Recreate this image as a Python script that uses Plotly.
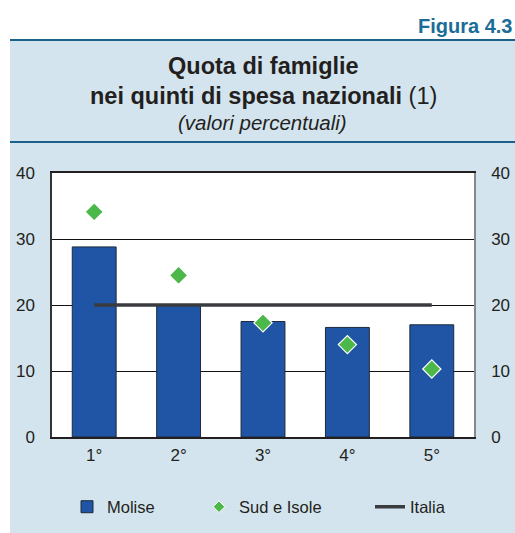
import plotly.graph_objects as go

categories = ["1°", "2°", "3°", "4°", "5°"]
molise = [28.8, 20.0, 17.5, 16.6, 17.0]
sud_isole = [34.1, 24.5, 17.3, 14.0, 10.3]
italia = [20, 20, 20, 20, 20]
y_ticks = [0, 10, 20, 30, 40]

W, H = 515, 533
L, R, T, B = 52, 474, 173, 437
pw, ph = R - L, B - T


def px(x):
    return (x - L) / pw


def py(y):
    return (B - y) / ph


FONT = "Liberation Sans, Arial, sans-serif"
GREEN = "#4cb849"
TXT = "#231f20"

fig = go.Figure()
fig.add_trace(go.Bar(
    x=categories, y=molise, name="Molise", width=0.52,
    marker=dict(color="#1f55a4", line=dict(color="#1e2a3c", width=1)),
    legend="legend",
))
fig.add_trace(go.Scatter(
    x=categories, y=italia, name="Italia", mode="lines",
    line=dict(color="#3a3b3e", width=3.5),
    legend="legend3",
))
fig.add_trace(go.Scatter(
    x=categories, y=sud_isole, name="Sud e Isole", mode="markers",
    marker=dict(symbol="diamond", size=14, color=GREEN,
                line=dict(color="white", width=1.2)),
    showlegend=False,
))
# legend entry with a smaller symbol, as in the original key
fig.add_trace(go.Scatter(
    x=[None], y=[None], name="Sud e Isole", mode="markers",
    marker=dict(symbol="diamond", size=9, color=GREEN,
                line=dict(color="white", width=1)),
    legend="legend2",
))
fig.add_trace(go.Scatter(
    x=categories, y=italia, yaxis="y2", mode="lines",
    line=dict(width=0), showlegend=False, hoverinfo="skip",
))

shapes = [
    dict(type="rect", xref="paper", yref="paper", layer="below",
         x0=px(10), x1=px(W + 5), y0=py(H + 5), y1=py(40),
         fillcolor="#d3e4ee", line=dict(width=0)),
    dict(type="rect", xref="paper", yref="paper", layer="below",
         x0=0, x1=1, y0=0, y1=1, fillcolor="white", line=dict(width=0)),
    dict(type="line", xref="paper", yref="paper",
         x0=px(10), x1=px(W + 5), y0=py(40), y1=py(40),
         line=dict(color="#1c6288", width=2)),
    dict(type="line", xref="paper", yref="paper",
         x0=px(10), x1=px(W + 5), y0=py(142), y1=py(142),
         line=dict(color="#1c6288", width=2)),
]

annotations = [
    dict(text="<b>Figura 4.3</b>", x=px(514), y=py(26), xref="paper", yref="paper",
         xanchor="right", yanchor="middle", showarrow=False,
         font=dict(family=FONT, size=20, color="#1a6d96")),
    dict(text="<b>Quota di famiglie</b>", x=px(263), y=py(66), xref="paper", yref="paper",
         xanchor="center", yanchor="middle", showarrow=False,
         font=dict(family=FONT, size=23.5, color=TXT)),
    dict(text="<b>nei quinti di spesa nazionali</b> (1)", x=px(263), y=py(96), xref="paper", yref="paper",
         xanchor="center", yanchor="middle", showarrow=False,
         font=dict(family=FONT, size=23.5, color=TXT)),
    dict(text="<i>(valori percentuali)</i>", x=px(262), y=py(122), xref="paper", yref="paper",
         xanchor="center", yanchor="middle", showarrow=False,
         font=dict(family=FONT, size=20.5, color=TXT)),
]

legend_common = dict(orientation="h", yanchor="middle", xanchor="left",
                     bgcolor="rgba(0,0,0,0)", y=py(507),
                     font=dict(family=FONT, size=16.5, color=TXT))

tickfont = dict(family=FONT, size=17, color=TXT)

fig.update_layout(
    width=W, height=H,
    margin=dict(l=L, r=W - R, t=T, b=H - B, pad=0, autoexpand=False),
    paper_bgcolor="white",
    plot_bgcolor="rgba(0,0,0,0)",
    font=dict(family=FONT, size=16, color=TXT),
    showlegend=True,
    legend=dict(legend_common, x=px(67)),
    legend2=dict(legend_common, x=px(199)),
    legend3=dict(legend_common, x=px(370)),
    shapes=shapes,
    annotations=annotations,
    xaxis=dict(
        type="category", range=[-0.5, 4.5],
        showline=True, mirror=True, linecolor=TXT, linewidth=1.5,
        ticks="", showgrid=False, ticklabelstandoff=2,
        tickfont=tickfont,
    ),
    yaxis=dict(
        range=[0, 40], tickvals=y_ticks, showgrid=True, gridcolor="#111111", gridwidth=1,
        showline=True, linecolor="#333333", linewidth=1.5, ticks="",
        ticklabelstandoff=12, zeroline=False,
        tickfont=tickfont,
    ),
    yaxis2=dict(
        range=[0, 40], tickvals=y_ticks, overlaying="y", side="right",
        showgrid=False, showline=True, linecolor="#888888", linewidth=1.5,
        ticks="", ticklabelstandoff=12, zeroline=False,
        tickfont=tickfont,
    ),
)

fig.write_html(
    "out.html",
    config={"displayModeBar": False},
    post_script="document.body.style.margin='0';document.body.style.overflow='hidden';",
)
